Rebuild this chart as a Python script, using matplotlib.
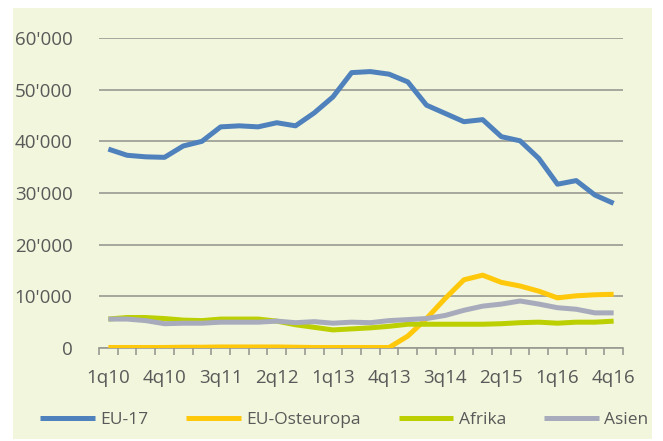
import matplotlib.pyplot as plt
import matplotlib.ticker as mticker
from matplotlib.patches import Rectangle

plt.rcParams['font.family'] = ['Open Sans', 'DejaVu Sans']

quartale = ['1q10', '2q10', '3q10', '4q10', '1q11', '2q11', '3q11', '4q11',
            '1q12', '2q12', '3q12', '4q12', '1q13', '2q13', '3q13', '4q13',
            '1q14', '2q14', '3q14', '4q14', '1q15', '2q15', '3q15', '4q15',
            '1q16', '2q16', '3q16', '4q16']

eu17 = [38500, 37300, 37000, 36900, 39100, 40000, 42800, 43000,
        42800, 43600, 43000, 45500, 48600, 53300, 53500, 53000,
        51500, 47000, 45400, 43800, 44200, 40900, 40100, 36700,
        31700, 32400, 29600, 28000]
eu_ost = [100, 100, 100, 100, 150, 150, 200, 200,
          200, 200, 150, 100, 100, 100, 100, 100,
          2300, 5700, 9600, 13200, 14100, 12700, 12000, 11000,
          9700, 10100, 10300, 10400]
afrika = [5600, 5900, 5900, 5700, 5400, 5300, 5600, 5600,
          5600, 5200, 4500, 4000, 3500, 3700, 3900, 4200,
          4600, 4600, 4600, 4600, 4600, 4700, 4900, 5000,
          4800, 5000, 5000, 5200]
asien = [5600, 5600, 5300, 4700, 4800, 4800, 5000, 5000,
         5000, 5200, 4900, 5100, 4800, 5000, 4900, 5300,
         5500, 5700, 6300, 7300, 8100, 8500, 9100, 8500,
         7800, 7500, 6800, 6800]

farben = ['#4F81BD', '#FFC80A', '#BCCF00', '#A7ABBC']
namen = ['EU-17', 'EU-Osteuropa', 'Afrika', 'Asien']
grau = '#595959'

fig = plt.figure(figsize=(6.63, 4.41), dpi=100)
# cremefarbener Hintergrund
hg = Rectangle((13 / 663, 2 / 441), 639 / 663, 431 / 441,
               transform=fig.transFigure, facecolor='#F2F6DC', edgecolor='none')
hg.set_zorder(-10)
fig.add_artist(hg)

ax = fig.add_axes([99 / 663, 93 / 441, 524 / 663, 310 / 441])
ax.set_facecolor('none')

x = list(range(len(quartale)))
for serie, farbe, name in zip([eu17, eu_ost, afrika, asien], farben, namen):
    ax.plot(x, serie, color=farbe, lw=3.6, label=name, solid_capstyle='butt', zorder=3)

ax.set_xlim(-0.5, len(quartale) - 0.5)
ax.set_ylim(0, 60000)
ax.set_yticks(range(0, 60001, 10000))
ax.yaxis.set_major_formatter(mticker.FuncFormatter(
    lambda v, p: '{:,.0f}'.format(v).replace(',', "'")))
ax.grid(axis='y', color='#9A9A92', lw=1.2, zorder=1)
ax.set_axisbelow(True)

ax.set_xticks(x[::3])
ax.set_xticklabels(quartale[::3])
ax.set_xticks([i - 0.5 for i in range(len(quartale) + 1)], minor=True)
ax.tick_params(axis='x', which='major', length=0, pad=15, labelsize=13.5, labelcolor=grau)
ax.tick_params(axis='x', which='minor', length=5, width=1.2, color='#9A9A92')
ax.tick_params(axis='y', length=0, pad=19, labelsize=13.5, labelcolor=grau)

for s in ['top', 'right', 'left']:
    ax.spines[s].set_visible(False)
ax.spines['bottom'].set_color('#9A9A92')
ax.spines['bottom'].set_linewidth(1.2)

ax.legend(loc='center left', bbox_to_anchor=(40 / 663, 21 / 441), bbox_transform=fig.transFigure,
          ncol=4, frameon=False, fontsize=12.5, labelcolor=grau, handlelength=3.15,
          handletextpad=0.3, columnspacing=2.2, borderpad=0, borderaxespad=0)

plt.savefig('out.png', dpi=100)
